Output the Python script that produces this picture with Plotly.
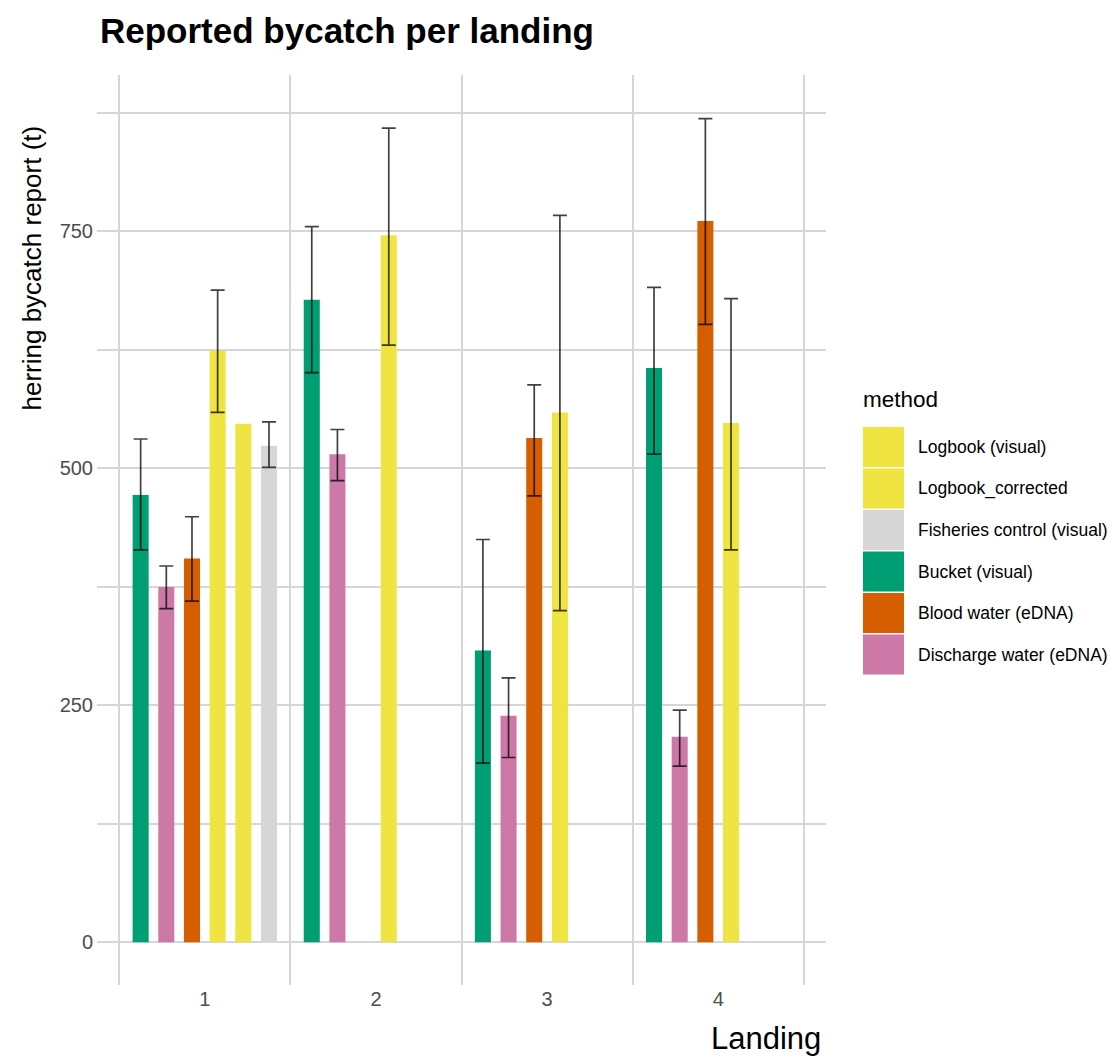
import plotly.graph_objects as go

# Reported herring bycatch (t) per landing, by reporting method
landings = [1, 2, 3, 4]

bucket = [472, 678, 308, 606]
bucket_hi = [531, 755, 425, 691]
bucket_lo = [414, 601, 189, 515]

discharge = [375, 515, 239, 217]
discharge_hi = [397, 541, 279, 245]
discharge_lo = [352, 487, 195, 186]

blood = [405, None, 532, 761]
blood_hi = [449, None, 588, 869]
blood_lo = [360, None, 471, 652]

logbook = [624, 746, 559, 548]
logbook_hi = [688, 859, 767, 679]
logbook_lo = [559, 630, 350, 414]

logbook_corr = [547, None, None, None]

fisheries = [524, None, None, None]
fisheries_hi = [549, None, None, None]
fisheries_lo = [501, None, None, None]

y_ticks = [0, 250, 500, 750]
y_minor = [125, 375, 625, 875]

# dodge order inside each landing
series = [
    ("Bucket (visual)", "#009E73", bucket, bucket_hi, bucket_lo),
    ("Discharge water (eDNA)", "#CC79A7", discharge, discharge_hi, discharge_lo),
    ("Blood water (eDNA)", "#D55E00", blood, blood_hi, blood_lo),
    ("Logbook (visual)", "#F0E442", logbook, logbook_hi, logbook_lo),
    ("Logbook_corrected", "#F0E442", logbook_corr, None, None),
    ("Fisheries control (visual)", "#D6D6D6", fisheries, fisheries_hi, fisheries_lo),
]

# legend order
legend_order = [
    ("Logbook (visual)", "#F0E442"),
    ("Logbook_corrected", "#F0E442"),
    ("Fisheries control (visual)", "#D6D6D6"),
    ("Bucket (visual)", "#009E73"),
    ("Blood water (eDNA)", "#D55E00"),
    ("Discharge water (eDNA)", "#CC79A7"),
]

FONT = "Liberation Sans, Arial, sans-serif"

fig = go.Figure()
for name, color, vals, hi, lo in series:
    err = None
    if hi is not None:
        plus = [None if v is None else h - v for v, h in zip(vals, hi)]
        minus = [None if v is None else v - l for v, l in zip(vals, lo)]
        err = dict(type="data", symmetric=False, array=plus, arrayminus=minus,
                   color="rgba(0,0,0,0.75)", thickness=1.7, width=7)
    fig.add_trace(go.Bar(
        x=landings, y=vals, name=name, marker=dict(color=color, line=dict(width=0)),
        error_y=err, showlegend=False,
    ))

W, H = 1116, 1057
L, R, T, B = 97, 290, 75, 72
pw, ph = W - L - R, H - T - B


def px(x):
    return (x - L) / pw


def py(y):
    return (H - B - y) / ph


fig.update_layout(
    width=W, height=H, autosize=False,
    margin=dict(l=L, r=R, t=T, b=B),
    paper_bgcolor="white", plot_bgcolor="white",
    barmode="group", bargap=0.1, bargroupgap=0.375,
    title=dict(text="<b>Reported bycatch per landing</b>", xref="container", yref="container",
               x=100 / W, xanchor="left", y=1 - 31 / H, yanchor="middle",
               font=dict(family=FONT, size=35, color="#000000")),
    xaxis=dict(range=[0.37, 4.63], tickvals=landings, ticktext=[str(v) for v in landings],
               showgrid=False, zeroline=False, showline=False, ticks="",
               tickfont=dict(family=FONT, size=20, color="#4d4d4d"),
               minor=dict(tickvals=[0.5, 1.5, 2.5, 3.5, 4.5], showgrid=True,
                          gridcolor="#d6d6d6", gridwidth=1.8, ticks="")),
    yaxis=dict(range=[-45, 915], tickvals=y_ticks, showgrid=True, gridcolor="#d6d6d6",
               gridwidth=1.8, zeroline=False, showline=False, ticks="",
               ticklabelstandoff=3,
               tickfont=dict(family=FONT, size=20, color="#4d4d4d"),
               minor=dict(tickvals=y_minor, showgrid=True, gridcolor="#d6d6d6",
                          gridwidth=1.8, ticks="")),
)

# axis titles
fig.add_annotation(text="herring bycatch report (t)", xref="paper", yref="paper",
                   x=px(31), y=py(124), xanchor="center", yanchor="top", textangle=-90,
                   showarrow=False, font=dict(family=FONT, size=26, color="#000000"))
fig.add_annotation(text="Landing", xref="paper", yref="paper",
                   x=px(823), y=py(1038), xanchor="right", yanchor="middle",
                   showarrow=False, font=dict(family=FONT, size=31, color="#000000"))

# legend drawn with swatches and labels
fig.add_annotation(text="method", xref="paper", yref="paper", x=px(861), y=py(400),
                   xanchor="left", yanchor="middle", showarrow=False,
                   font=dict(family=FONT, size=22.5, color="#000000"))
top = 427
for i, (name, color) in enumerate(legend_order):
    y0 = top + i * 41.5
    fig.add_shape(type="rect", xref="paper", yref="paper",
                  x0=px(863), x1=px(904), y0=py(y0), y1=py(y0 + 40),
                  fillcolor=color, line=dict(width=0), layer="above")
    fig.add_annotation(text=name, xref="paper", yref="paper", x=px(916), y=py(y0 + 20),
                       xanchor="left", yanchor="middle", showarrow=False,
                       font=dict(family=FONT, size=17.5, color="#000000"))

fig.write_html("out.html")
